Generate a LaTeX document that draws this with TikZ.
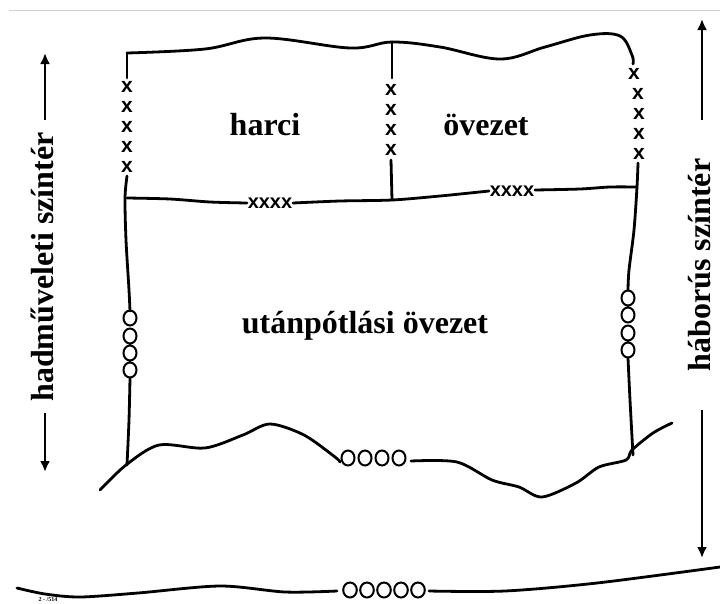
\documentclass[tikz,border=0pt]{standalone}
\usepackage{fontspec}
\setmainfont{Liberation Serif}
\newfontfamily\markfont{Liberation Sans}
\usetikzlibrary{arrows.meta}

\begin{document}
\begin{tikzpicture}[x=1pt,y=-1pt,
    frameline/.style={line width=2.8pt, line cap=round, line join=round},
    ring/.style={line width=2pt},
    zonetext/.style={font=\fontsize{32}{36}\selectfont\bfseries, inner sep=0pt, anchor=base},
    sidetext/.style={zonetext, rotate=90},
    xmark/.style={font=\markfont\bfseries\fontsize{21}{21}\selectfont, inner sep=0pt},
    xrow/.style={font=\markfont\bfseries\fontsize{20}{20}\selectfont, inner sep=0pt},
    sidearrow/.style={line width=2.8pt, -{Latex[length=11pt,width=10pt]}}]
    \useasboundingbox (0,0) rectangle (720,603);
    \draw[gray!35, line width=1pt] (9,10) -- (720,10);

    % upper edge of the combat zone
    \draw[frameline] (127,78) -- (127,53);
    \draw[frameline] plot[smooth, tension=0.6] coordinates {(127,53) (205,49) (265,38) (350,48) (392,42) (440,47) (500,59) (545,47) (590,35) (620,36) (632,55) (633,64)};
    \draw[frameline] (392,42) -- (392,78);

    % x marks
    \node[xmark] (xl1) at (127,87) {x};
    \node[xmark] (xl2) at (127,107) {x};
    \node[xmark] (xl3) at (127,127) {x};
    \node[xmark] (xl4) at (127,147) {x};
    \node[xmark] (xl5) at (127,167) {x};
    \node[xmark] (xm1) at (391,90) {x};
    \node[xmark] (xm2) at (391,110) {x};
    \node[xmark] (xm3) at (391,130) {x};
    \node[xmark] (xm4) at (391,150) {x};
    \node[xmark] (xr1) at (634,74) {x};
    \node[xmark] (xr2) at (638,94) {x};
    \node[xmark] (xr3) at (639,114) {x};
    \node[xmark] (xr4) at (639,134) {x};
    \node[xmark] (xr5) at (639,154) {x};
    \node[xrow] (xdiv1) at (270,203) {xxxx};
    \node[xrow] (xdiv2) at (512,191) {xxxx};

    % sides
    \draw[frameline] plot[smooth] coordinates {(127,176) (125,198) (126,240) (129,290) (130,311)};
    \draw[frameline] plot[smooth] coordinates {(130,378) (129,420) (127,465)};
    \draw[frameline] plot[smooth] coordinates {(638,163) (637,187) (634,230) (629,270) (628,290)};
    \draw[frameline] plot[smooth] coordinates {(628,358) (630,400) (633,455)};
    \draw[frameline] (391,160) -- (392,200);

    % dividing line
    \draw[frameline] plot[smooth] coordinates {(127,198) (170,199) (210,202) (247,203)};
    \draw[frameline] plot[smooth] coordinates {(293,203) (340,201) (392,200) (440,196) (489,191)};
    \draw[frameline] plot[smooth] coordinates {(535,190) (580,189) (610,187) (637,187)};

    % circles
    \draw[ring] (130,318) ellipse (6.5 and 7.5) (130,336) ellipse (6.5 and 7.5) (130,353) ellipse (6.5 and 7.5) (130,370) ellipse (6.5 and 7.5);
    \draw[ring] (628,298) ellipse (6.5 and 7.5) (628,315) ellipse (6.5 and 7.5) (628,333) ellipse (6.5 and 7.5) (628,350) ellipse (6.5 and 7.5);
    \draw[ring] (348,458) ellipse (6.5 and 7.5) (365,458) ellipse (6.5 and 7.5) (382,458) ellipse (6.5 and 7.5) (399,458) ellipse (6.5 and 7.5);
    \draw[ring] (350,590) ellipse (6.8 and 7.5) (367,590) ellipse (6.8 and 7.5) (384,590) ellipse (6.8 and 7.5) (401,590) ellipse (6.8 and 7.5) (418,590) ellipse (6.8 and 7.5);

    % rear boundary
    \draw[frameline] plot[smooth] coordinates {(100,490) (126,465) (159,445) (205,448) (243,435) (270,424) (304,435) (335,457) (340,462)};
    \draw[frameline] plot[smooth] coordinates {(411,461) (457,462) (492,480) (519,487) (542,497) (576,483) (599,467) (626,460) (632,450) (653,433) (672,423)};
    \draw[frameline] plot[smooth] coordinates {(17,588) (45,594) (80,597) (138,593) (220,586) (285,592) (337,591)};
    \draw[frameline] plot[smooth] coordinates {(429,591) (505,591) (597,583) (720,567)};

    % labels
    \node[zonetext] (harci) at (265,135) {harci};
    \node[zonetext] (ovezet) at (486,135) {övezet};
    \node[zonetext] (utanp) at (365,333) {utánpótlási övezet};
    \node[sidetext] (hadm) at (53,267) {hadműveleti színtér};
    \node[sidetext] (habor) at (710,265) {háborús színtér};
    \node[font=\fontsize{6}{6}\selectfont\bfseries, inner sep=0pt, anchor=base] (figno) at (48,601) {2 - /514};

    \coordinate (hadm-a) at (45,120);
    \coordinate (hadm-b) at (45,53);
    \coordinate (hadm-c) at (45,413);
    \coordinate (hadm-d) at (45,472);
    \coordinate (habor-a) at (702,120);
    \coordinate (habor-b) at (702,19);
    \coordinate (habor-c) at (702,410);
    \coordinate (habor-d) at (702,558);
    \draw[sidearrow] (hadm-a) -- (hadm-b);
    \draw[sidearrow] (hadm-c) -- (hadm-d);
    \draw[sidearrow] (habor-a) -- (habor-b);
    \draw[sidearrow] (habor-c) -- (habor-d);
  \end{tikzpicture}
\end{document}
